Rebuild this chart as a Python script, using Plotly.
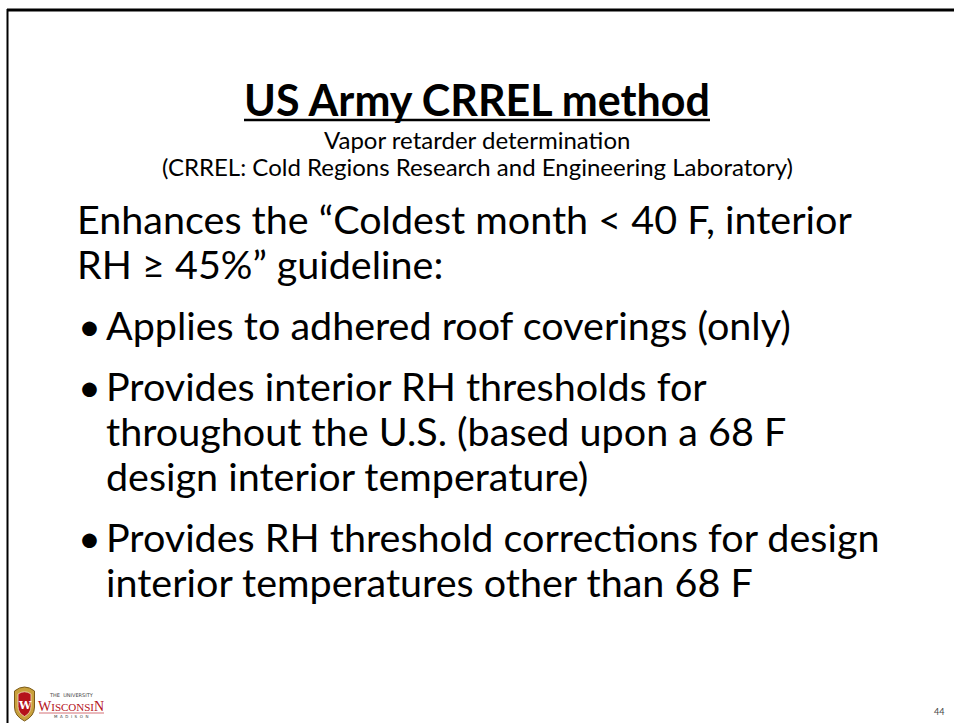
import plotly.graph_objects as go

W, H = 954, 723

# ---- slide content ----
title_text = "US Army CRREL method"
subtitle_lines = [
    "Vapor retarder determination",
    "(CRREL: Cold Regions Research and Engineering Laboratory)",
]
intro_lines = [
    "Enhances the \u201cColdest month < 40 F, interior",
    "RH \u2265 45%\u201d guideline:",
]
bullets = [
    ["Applies to adhered roof coverings (only)"],
    ["Provides interior RH thresholds for",
     "throughout the U.S. (based upon a 68 F",
     "design interior temperature)"],
    ["Provides RH threshold corrections for design",
     "interior temperatures other than 68 F"],
]
page_number = "44"

FONT = "Lato, 'Open Sans', sans-serif"
BODY_SIZE = 39.5
TEXT_X = 75
BULLET_TEXT_X = 104

fig = go.Figure()
ann = []
shapes = []

# slide border (top and left visible)
shapes.append(dict(type="line", x0=7, x1=W + 5, y0=10, y1=10, line=dict(color="black", width=3)))
shapes.append(dict(type="line", x0=7.5, x1=7.5, y0=9, y1=H + 5, line=dict(color="black", width=2)))

# title
ann.append(dict(x=477, y=99, text="<b>" + title_text + "</b>", showarrow=False,
                xanchor="center", yanchor="middle",
                font=dict(family=FONT, size=43, color="black")))
shapes.append(dict(type="line", x0=244, x1=710, y0=120, y1=120, line=dict(color="black", width=2.5)))

sub_y = [139, 166]
for t, yy in zip(subtitle_lines, sub_y):
    ann.append(dict(x=477, y=yy, text=t, showarrow=False, xanchor="center", yanchor="middle",
                    font=dict(family=FONT, size=24, color="black")))

# intro lines
intro_y = [218, 263]
for t, yy in zip(intro_lines, intro_y):
    ann.append(dict(x=TEXT_X, y=yy, text=t, showarrow=False, xanchor="left", yanchor="middle",
                    font=dict(family=FONT, size=BODY_SIZE, color="black")))

# bullets
bullet_y = [[324], [385, 430, 475], [536, 581]]
for lines, ys in zip(bullets, bullet_y):
    ann.append(dict(x=TEXT_X + 1, y=ys[0], text="\u2022", showarrow=False, xanchor="left", yanchor="middle",
                    font=dict(family=FONT, size=BODY_SIZE, color="black")))
    for t, yy in zip(lines, ys):
        ann.append(dict(x=BULLET_TEXT_X, y=yy, text=t, showarrow=False, xanchor="left", yanchor="middle",
                        font=dict(family=FONT, size=BODY_SIZE, color="black")))

# page number
ann.append(dict(x=946, y=711, text=page_number, showarrow=False, xanchor="right", yanchor="middle",
                font=dict(family=FONT, size=9, color="#444444")))

# ---- University of Wisconsin logo ----
shapes.append(dict(type="path",
                   path="M 14.5 691 Q 24.5 683 34.5 691 L 34.5 707 Q 34.5 716 24.5 721 Q 14.5 716 14.5 707 Z",
                   fillcolor="#c9a13c", line=dict(color="#7a5a18", width=1)))
shapes.append(dict(type="path",
                   path="M 18 694 Q 24.5 689.5 31 694 L 31 706.5 Q 31 713 24.5 716.5 Q 18 713 18 706.5 Z",
                   fillcolor="#b5121b", line=dict(color="#f0e0c0", width=0.8)))
ann.append(dict(x=24.5, y=705, text="<b>W</b>", showarrow=False, xanchor="center", yanchor="middle",
                font=dict(family="'DejaVu Serif', serif", size=11, color="white")))
ann.append(dict(x=71, y=695, text="THE  UNIVERSITY", showarrow=False, xanchor="center", yanchor="middle",
                font=dict(family="'DejaVu Sans', sans-serif", size=5, color="#444444")))
ann.append(dict(x=71, y=706, text="W<span style='font-size:11px'>ISCONSI</span>N", showarrow=False,
                xanchor="center", yanchor="middle",
                font=dict(family="'Liberation Serif', serif", size=14, color="#b5121b")))
ann.append(dict(x=71, y=716.5, text="M  A  D  I  S  O  N", showarrow=False, xanchor="center", yanchor="middle",
                font=dict(family="'DejaVu Sans', sans-serif", size=4, color="#444444")))
shapes.append(dict(type="line", x0=39, x1=104, y0=713, y1=713, line=dict(color="#b5121b", width=0.6)))

fig.update_layout(
    width=W, height=H,
    margin=dict(l=0, r=0, t=0, b=0),
    paper_bgcolor="white", plot_bgcolor="white",
    xaxis=dict(range=[0, W], visible=False, fixedrange=True),
    yaxis=dict(range=[H, 0], visible=False, fixedrange=True),
    annotations=ann, shapes=shapes, showlegend=False,
)

fig.write_html("out.html",
               config=dict(displayModeBar=False, staticPlot=True),
               post_script="document.body.style.margin='0px';document.body.style.overflow='hidden';")
